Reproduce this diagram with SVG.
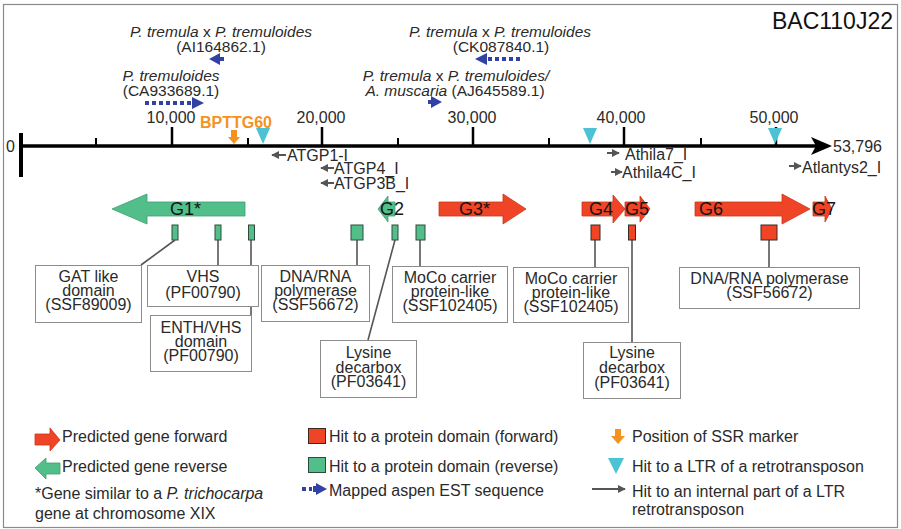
<svg xmlns="http://www.w3.org/2000/svg" width="901" height="529" viewBox="0 0 901 529">
  <defs>
    <style>
      text { font-family: "Liberation Sans", Arial, sans-serif; fill: #2a2a2a; }
      .lbl { font-size: 16px; }
      .est { font-size: 15.5px; }
      .mid { text-anchor: middle; }
      .gene { font-size: 18px; fill: #141414; }
      .box { fill: #ffffff; stroke: #8c8c8c; stroke-width: 1; }
      .fwd { fill: #EF4526; stroke: #C8381C; stroke-width: 0.8; }
      .rev { fill: #52BF8B; stroke: #3E9E70; stroke-width: 0.8; }
      .dfwd { fill: #EF4526; stroke: #3a2a22; stroke-width: 1; }
      .drev { fill: #52BF8B; stroke: #2f4a3c; stroke-width: 1; }
      .ltr { fill: #4CC2D2; }
      .ssr { fill: #F5921E; }
      .estc { fill: #3142A3; }
      .estdot { stroke: #3142A3; stroke-width: 4; stroke-dasharray: 4 3; fill: none; }
      .link { stroke: #555555; stroke-width: 1.6; fill: none; }
      .intl { stroke: #555555; stroke-width: 2; fill: none; marker-end: url(#tip); }
      .axis { stroke: #000000; fill: none; }
    </style>
    <marker id="tip" viewBox="0 0 10 10" refX="9" refY="5" markerWidth="8" markerHeight="8" markerUnits="userSpaceOnUse" orient="auto">
      <path d="M0,0 L10,5 L0,10 Z" fill="#555555"/>
    </marker>
  </defs>

  <!-- frame -->
  <rect x="3.5" y="4.5" width="894" height="523" fill="#ffffff" stroke="#8a8a8a" stroke-width="1.2"/>

  <!-- title -->
  <text id="title" x="893" y="29" text-anchor="end" style="font-size:23px;fill:#111">BAC110J22</text>

  <!-- sequence axis -->
  <g id="axis">
    <line class="axis" x1="21" y1="133" x2="21" y2="177" stroke-width="4"/>
    <line class="axis" x1="21" y1="146" x2="822" y2="146" stroke-width="3.5"/>
    <path d="M811,137 L832,146 L811,155 L816,146 Z" fill="#000"/>
    <!-- major ticks -->
    <path class="axis" stroke-width="2.5" d="M172,127 V146 M322,127 V146 M473,127 V146 M624,127 V146 M776,127 V146"/>
    <!-- minor ticks -->
    <path class="axis" stroke-width="2" d="M96,138 V146 M248,138 V146 M398,138 V146 M549,138 V146 M701,138 V146"/>
    <text class="lbl" x="6" y="152">0</text>
    <text class="lbl mid" x="171" y="123">10,000</text>
    <text class="lbl mid" x="321" y="123">20,000</text>
    <text class="lbl mid" x="472" y="123">30,000</text>
    <text class="lbl mid" x="621" y="123">40,000</text>
    <text class="lbl mid" x="774" y="123">50,000</text>
    <text class="lbl" x="833" y="152">53,796</text>
  </g>

  <!-- SSR marker -->
  <g id="ssr-bpttg60">
    <text x="236" y="128" text-anchor="middle" style="font-size:16px;font-weight:bold;fill:#F5921E">BPTTG60</text>
    <path class="ssr" d="M231,130 H237 V137 H240 L234,144 L228,137 H231 Z"/>
  </g>

  <!-- LTR hits -->
  <g id="ltr-hits">
    <path class="ltr" d="M256,128 H270 L263,144 Z"/>
    <path class="ltr" d="M583,128 H597 L590,144 Z"/>
    <path class="ltr" d="M768,128 H782 L775,144 Z"/>
  </g>

  <!-- mapped aspen ESTs -->
  <g id="est-ai164862">
    <text class="est mid" x="221" y="37"><tspan font-style="italic">P. tremula</tspan> x <tspan font-style="italic">P. tremuloides</tspan></text>
    <text class="est mid" x="221" y="52">(AI164862.1)</text>
    <path class="estc" d="M209,59 L220,53 V57 H224 V61 H220 V65 Z"/>
  </g>
  <g id="est-ca933689">
    <text class="est mid" x="171" y="81" font-style="italic">P. tremuloides</text>
    <text class="est mid" x="171" y="96">(CA933689.1)</text>
    <line class="estdot" x1="145" y1="103" x2="192" y2="103"/>
    <path class="estc" d="M192,97 L204,103 L192,109 Z"/>
  </g>
  <g id="est-ck087840">
    <text class="est mid" x="500" y="37"><tspan font-style="italic">P. tremula</tspan> x <tspan font-style="italic">P. tremuloides</tspan></text>
    <text class="est mid" x="501" y="52">(CK087840.1)</text>
    <path class="estc" d="M475,59 L487,53 L487,65 Z"/>
    <line class="estdot" x1="488" y1="59" x2="521" y2="59"/>
  </g>
  <g id="est-aj645589">
    <text class="est mid" x="456" y="81"><tspan font-style="italic">P. tremula</tspan> x <tspan font-style="italic">P. tremuloides/</tspan></text>
    <text class="est mid" x="455" y="96"><tspan font-style="italic">A. muscaria</tspan> (AJ645589.1)</text>
    <path class="estc" d="M428,100 H431 V96 L442,102 L431,108 V104 H428 Z"/>
  </g>

  <!-- internal LTR retrotransposon hits -->
  <g id="internal-hits">
    <line class="intl" x1="286" y1="155" x2="272" y2="155"/>
    <text class="lbl" x="287" y="161">ATGP1-I</text>
    <line class="intl" x1="334" y1="168" x2="321" y2="168"/>
    <text class="lbl" x="334" y="174">ATGP4_I</text>
    <line class="intl" x1="334" y1="183" x2="321" y2="183"/>
    <text class="lbl" x="334" y="189">ATGP3B_I</text>
    <line class="intl" x1="607" y1="153" x2="619" y2="153"/>
    <text class="lbl" x="625" y="160">Athila7_I</text>
    <line class="intl" x1="611" y1="172" x2="622" y2="172"/>
    <text class="lbl" x="622" y="178">Athila4C_I</text>
    <line class="intl" x1="789" y1="166" x2="801" y2="166"/>
    <text class="lbl" x="802" y="173">Atlantys2_I</text>
  </g>

  <!-- predicted genes -->
  <g id="gene-g1">
    <path class="rev" d="M112,209 L147,194 V202 H245 V216 H147 V224 Z"/>
    <text class="gene" x="170" y="215">G1*</text>
  </g>
  <g id="gene-g2">
    <path class="rev" d="M378,209 L388,196 V202 H395 V216 H388 V222 Z"/>
    <text class="gene" x="380" y="215">G2</text>
  </g>
  <g id="gene-g3">
    <path class="fwd" d="M439,202 H503 V194 L526,209 L503,224 V216 H439 Z"/>
    <text class="gene" x="459" y="215">G3*</text>
  </g>
  <g id="gene-g4">
    <path class="fwd" d="M582,202 H613 V195 L625,209 L613,223 V216 H582 Z"/>
    <text class="gene" x="589" y="215">G4</text>
  </g>
  <g id="gene-g5">
    <path class="fwd" d="M625,202 H640 V196 L650,209 L640,222 V216 H625 Z"/>
    <text class="gene" x="625" y="215">G5</text>
  </g>
  <g id="gene-g6">
    <path class="fwd" d="M695,202 H782 V194 L810,209 L782,224 V216 H695 Z"/>
    <text class="gene" x="699" y="215">G6</text>
  </g>
  <g id="gene-g7">
    <path class="fwd" d="M813,202 H825 V196 L832,209 L825,222 V216 H813 Z"/>
    <text class="gene" x="812" y="215">G7</text>
  </g>

  <!-- connectors from domain hits to annotation boxes -->
  <g id="connectors">
    <line class="link" x1="175" y1="240" x2="141" y2="265"/>
    <line class="link" x1="218" y1="240" x2="218" y2="265"/>
    <line class="link" x1="251" y1="240" x2="251" y2="315"/>
    <line class="link" x1="357" y1="240" x2="357" y2="265"/>
    <line class="link" x1="395" y1="240" x2="368" y2="340"/>
    <line class="link" x1="420" y1="240" x2="420" y2="266"/>
    <line class="link" x1="595" y1="240" x2="595" y2="267"/>
    <line class="link" x1="632" y1="240" x2="632" y2="342"/>
    <line class="link" x1="769" y1="240" x2="769" y2="267"/>
  </g>

  <!-- protein domain hits -->
  <g id="domain-hits">
    <rect class="drev" x="172" y="225" width="6" height="15"/>
    <rect class="drev" x="215" y="225" width="6" height="15"/>
    <rect class="drev" x="248.5" y="225" width="6" height="15"/>
    <rect class="drev" x="351" y="225" width="12" height="15"/>
    <rect class="drev" x="392" y="225" width="6" height="15"/>
    <rect class="drev" x="416" y="225" width="9" height="15"/>
    <rect class="dfwd" x="591" y="225" width="9" height="15"/>
    <rect class="dfwd" x="628.5" y="225" width="7" height="15"/>
    <rect class="dfwd" x="761" y="225" width="16" height="15"/>
  </g>

  <!-- annotation boxes -->
  <g id="box-gat">
    <rect class="box" x="35.5" y="265.5" width="106" height="57"/>
    <text class="lbl mid" x="88.5" y="282">GAT like</text>
    <text class="lbl mid" x="88.5" y="296">domain</text>
    <text class="lbl mid" x="88.5" y="310">(SSF89009)</text>
  </g>
  <g id="box-vhs">
    <rect class="box" x="147.5" y="265.5" width="111" height="41"/>
    <text class="lbl mid" x="203" y="282">VHS</text>
    <text class="lbl mid" x="203" y="298">(PF00790)</text>
  </g>
  <g id="box-enth">
    <rect class="box" x="150.5" y="315.5" width="101" height="56"/>
    <text class="lbl mid" x="201" y="333">ENTH/VHS</text>
    <text class="lbl mid" x="201" y="347">domain</text>
    <text class="lbl mid" x="201" y="361">(PF00790)</text>
  </g>
  <g id="box-dna1">
    <rect class="box" x="261.5" y="265.5" width="108" height="56"/>
    <text class="lbl mid" x="315.5" y="282">DNA/RNA</text>
    <text class="lbl mid" x="315.5" y="296">polymerase</text>
    <text class="lbl mid" x="315.5" y="310">(SSF56672)</text>
  </g>
  <g id="box-lys1">
    <rect class="box" x="320.5" y="340.5" width="96" height="57"/>
    <text class="lbl mid" x="368.5" y="358">Lysine</text>
    <text class="lbl mid" x="368.5" y="373">decarbox</text>
    <text class="lbl mid" x="368.5" y="387">(PF03641)</text>
  </g>
  <g id="box-moco1">
    <rect class="box" x="392.5" y="266.5" width="115" height="56"/>
    <text class="lbl mid" x="450" y="283">MoCo carrier</text>
    <text class="lbl mid" x="450" y="297">protein-like</text>
    <text class="lbl mid" x="450" y="311">(SSF102405)</text>
  </g>
  <g id="box-moco2">
    <rect class="box" x="513.5" y="267.5" width="115" height="55"/>
    <text class="lbl mid" x="571" y="284">MoCo carrier</text>
    <text class="lbl mid" x="571" y="298">protein-like</text>
    <text class="lbl mid" x="571" y="312">(SSF102405)</text>
  </g>
  <g id="box-lys2">
    <rect class="box" x="583.5" y="342.5" width="97" height="56"/>
    <text class="lbl mid" x="632" y="358">Lysine</text>
    <text class="lbl mid" x="632" y="373">decarbox</text>
    <text class="lbl mid" x="632" y="388">(PF03641)</text>
  </g>
  <g id="box-dna2">
    <rect class="box" x="679.5" y="267.5" width="180" height="41"/>
    <text class="lbl mid" x="769.5" y="284">DNA/RNA polymerase</text>
    <text class="lbl mid" x="769.5" y="298">(SSF56672)</text>
  </g>

  <!-- legend -->
  <g id="legend">
    <path class="fwd" d="M35,434 H50 V428 L60,440 L50,451 V445 H35 Z"/>
    <text class="lbl" x="62" y="442">Predicted gene forward</text>
    <path class="rev" d="M35,468 L46,458 V463 H60 V474 H46 V479 Z"/>
    <text class="lbl" x="62" y="472">Predicted gene reverse</text>
    <text class="lbl" x="35" y="499">*Gene similar to a <tspan font-style="italic">P. trichocarpa</tspan></text>
    <text class="lbl" x="35" y="519">gene at chromosome XIX</text>

    <rect class="dfwd" x="308.5" y="428.5" width="17" height="15"/>
    <text class="lbl" x="329" y="442">Hit to a protein domain (forward)</text>
    <rect class="drev" x="308.5" y="457.5" width="17" height="15"/>
    <text class="lbl" x="329" y="472">Hit to a protein domain (reverse)</text>
    <line class="estdot" x1="302" y1="489" x2="312" y2="489"/>
    <path class="estc" d="M313,486 H316 V483 L327,489 L316,495 V492 H313 Z"/>
    <text class="lbl" x="329" y="496">Mapped aspen EST sequence</text>

    <path class="ssr" d="M615,429 H621 V436 H625 L618,444 L611,436 H615 Z"/>
    <text class="lbl" x="632" y="442">Position of SSR marker</text>
    <path class="ltr" d="M608,458 H624 L616,474 Z"/>
    <text class="lbl" x="632" y="472">Hit to a LTR of a retrotransposon</text>
    <line class="intl" x1="592" y1="489" x2="625" y2="489"/>
    <text class="lbl" x="632" y="497">Hit to an internal part of a LTR</text>
    <text class="lbl" x="632" y="515">retrotransposon</text>
  </g>
</svg>
